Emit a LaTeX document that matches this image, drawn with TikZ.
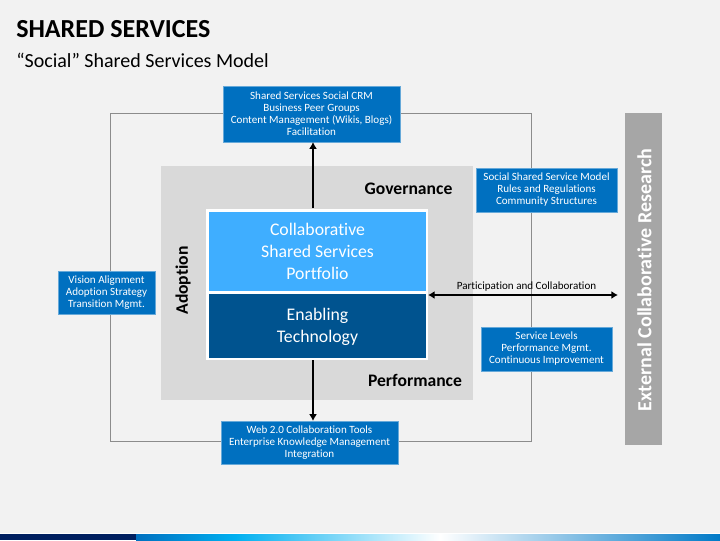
\documentclass[tikz,border=0pt]{standalone}
\usepackage{fontspec}
\setmainfont[RawFeature={-liga}]{Carlito}
\usetikzlibrary{arrows.meta}
\definecolor{bg}{HTML}{F2F2F2}
\definecolor{boxblue}{HTML}{0070C0}
\definecolor{lightb}{HTML}{3FAEFF}
\definecolor{darkb}{HTML}{00538F}
\definecolor{navy}{HTML}{002060}
\definecolor{sky}{HTML}{00B0F0}
\tikzset{
 px/.style={x=0.75pt,y=-0.75pt},
 infobox/.style={fill=boxblue,draw=white!40!boxblue,line width=0.25pt,text=white,align=center,font=\fontsize{8.3}{9}\selectfont,inner sep=0pt,execute at begin node={\vspace{1.2pt}}},
 hdr/.style={font=\fontsize{13.2}{15}\bfseries\selectfont,text=black,inner sep=0pt},
 big/.style={text=white,align=center,font=\fontsize{13.3}{16.4}\selectfont,inner sep=0pt},
 conn/.style={line width=2pt,black,-{Latex[length=5pt,width=6pt]}},
 conntwo/.style={line width=1.4pt,black,{Latex[length=5pt,width=6pt]}-{Latex[length=5pt,width=6pt]}}
}
\begin{document}
\begin{tikzpicture}[px]
\useasboundingbox (0,0) rectangle (720,540);
\fill[bg] (0,0) rectangle (720,540);
% bottom band
\fill[white] (0,533) rectangle (720,534);
\fill[navy] (0,534) rectangle (136,540);
\fill[left color=boxblue,right color=sky] (136,534) rectangle (235,540);
\fill[left color=sky,right color=white] (235,534) rectangle (440,540);
\fill[left color=white,right color=boxblue!85!sky] (440,534) rectangle (720,540);
% titles
\node[anchor=west,inner sep=0pt,font=\fontsize{19.5}{21}\bfseries\selectfont] (title) at (16,29) {SHARED SERVICES};
\node[anchor=west,inner sep=0pt,font=\fontsize{15}{18}\selectfont] (subtitle) at (16,60) {“Social” Shared Services Model};
% frame
\node[draw=black!45,line width=0.7pt,minimum width=315.75pt,minimum height=246pt,inner sep=0pt] (frame) at (320.5,277) {};
% grey area
\node[fill=black!15,minimum width=234pt,minimum height=175.5pt,inner sep=0pt] (area) at (317,283) {};
% centre
\node[fill=white,minimum width=166.5pt,minimum height=113.25pt,inner sep=0pt] (core) at (317,284.5) {};
\node[fill=lightb,minimum width=162.75pt,minimum height=59.25pt,inner sep=0pt,big] (portfolio) at (317.5,251.5) {Collaborative\\Shared Services\\Portfolio};
\node[fill=darkb,minimum width=162.75pt,minimum height=48pt,inner sep=0pt] (tech) at (317.5,326) {};
\node[big] (techlabel) at (tech.center) [yshift=-0.6pt] {Enabling\\Technology};
% labels
\node[hdr] (gov) at (408.5,189) {Governance};
\node[hdr] (perf) at (415,380) {Performance};
\node[hdr,rotate=90] (adopt) at (183,280.5) {Adoption};
% info boxes
\node[infobox,minimum width=132.75pt,minimum height=42pt] (crm) at (311.5,114) {Shared Services Social CRM\\Business Peer Groups\\Content Management (Wikis, Blogs)\\Facilitation};
\node[infobox,minimum width=105.75pt,minimum height=33pt] (model) at (546.5,190) {Social Shared Service Model\\Rules and Regulations\\Community Structures};
\node[infobox,minimum width=72.75pt,minimum height=32.25pt] (vision) at (106.5,292.5) {Vision Alignment\\Adoption Strategy\\Transition Mgmt.};
\node[infobox,minimum width=98.25pt,minimum height=33pt] (levels) at (546.5,349) {Service Levels\\Performance Mgmt.\\Continuous Improvement};
\node[infobox,minimum width=132.75pt,minimum height=32.25pt] (web) at (309.5,442.5) {Web 2.0 Collaboration Tools\\Enterprise Knowledge Management\\Integration};
% external
\node[fill=black!35,minimum width=27.75pt,minimum height=249pt,inner sep=0pt] (extbar) at (643.5,279) {};
\node[rotate=90,text=white,inner sep=0pt,font=\fontsize{15}{17}\bfseries\selectfont] (ext) at (644.5,280) {External Collaborative Research};
% connectors
\coordinate (upfoot) at (313,208);
\coordinate (downfoot) at (313,360);
\coordinate (rightfoot) at (428,295);
\coordinate (righttip) at (618,295);
\draw[conn] (upfoot) -- (upfoot |- crm.south);
\draw[conn] (downfoot) -- (downfoot |- web.north);
\draw[conntwo] (rightfoot) -- (righttip);
\node[inner sep=0pt,font=\fontsize{8.3}{9}\selectfont] (part) at (526.5,287) {Participation and Collaboration};
\end{tikzpicture}
\end{document}
